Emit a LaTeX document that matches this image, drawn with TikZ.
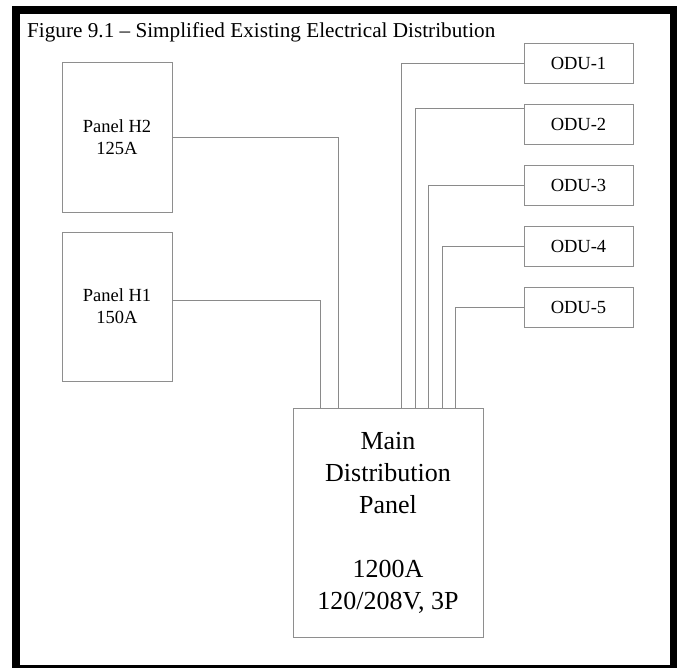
\documentclass[tikz,border=0pt]{standalone}
\usepackage{fontspec}
\setmainfont{Liberation Serif}

\definecolor{wireGray}{HTML}{8A8A8A}
\definecolor{boxGray}{HTML}{8E8E8E}

\tikzset{
  panelbox/.style={draw=boxGray,line width=0.9pt,rectangle,inner sep=0pt,
    align=center,font=\fontsize{18.5}{22}\selectfont},
  wire/.style={draw=wireGray,line width=0.9pt}
}

\begin{document}
\begin{tikzpicture}[x=1pt,y=-1pt]
  \useasboundingbox (0,0) rectangle (677,668);
  \draw[black,line width=8pt] (16,10) rectangle (674,669);

  \node[anchor=base west,inner sep=0pt,font=\fontsize{21.2}{24}\selectfont]
    (title) at (27,38) {Figure 9.1 -- Simplified Existing Electrical Distribution};

  % sub panels
  \node[panelbox,minimum width=110pt,minimum height=150pt] (h2) at (117,137)
    {Panel H2\\125A};
  \node[panelbox,minimum width=110pt,minimum height=149pt] (h1) at (117,306.5)
    {Panel H1\\150A};

  % main panel
  \node[panelbox,minimum width=190pt,minimum height=229pt,
    font=\fontsize{26}{32}\selectfont] (mdp) at (388,522.5)
    {Main\\Distribution\\Panel\\[32pt]1200A\\120/208V, 3P};

  % outdoor units
  \foreach \i in {1,...,5} {
    \node[panelbox,minimum width=109pt,minimum height=40pt] (odu\i)
      at (578.5,{63+61*(\i-1)}) {ODU-\i};
  }

  \draw[wire] (h2.east) -| ([xshift=46pt]mdp.north west);
  \draw[wire] ([yshift=6.5pt]h1.east) -| ([xshift=27.5pt]mdp.north west);
  \foreach \i/\dx/\dy in {1/109/0,2/123/15.7,3/136/0,4/150/0,5/163/0} {
    \draw[wire] ([yshift=\dy pt]odu\i.west) -| ([xshift=\dx pt]mdp.north west);
  }
\end{tikzpicture}
\end{document}
